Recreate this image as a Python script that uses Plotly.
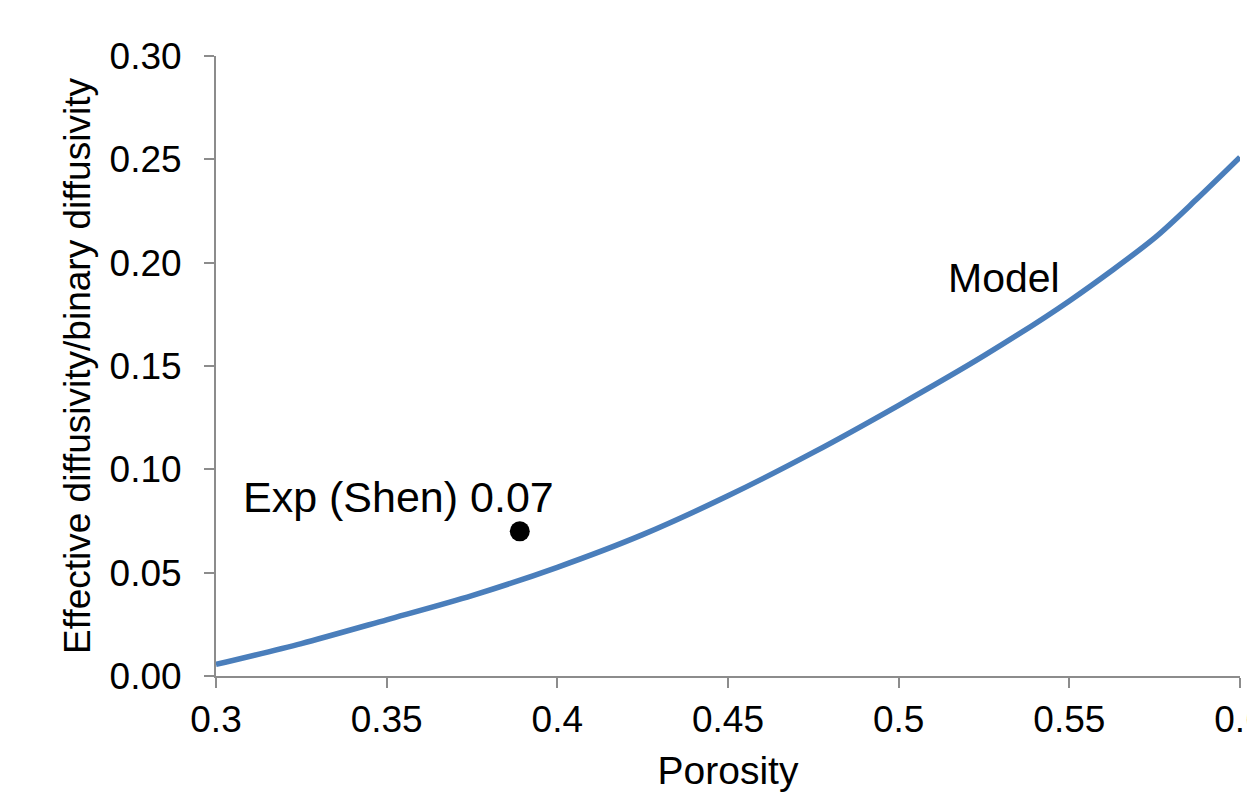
import plotly.graph_objects as go

porosity = [0.30, 0.325, 0.35, 0.375, 0.40, 0.425, 0.45, 0.475, 0.50, 0.525, 0.55, 0.575, 0.5875, 0.60]
model_ratio = [0.0056, 0.0157, 0.0272, 0.0389, 0.0526, 0.0684, 0.0872, 0.1082, 0.131, 0.155, 0.1815, 0.212, 0.231, 0.251]
exp_porosity = [0.389]
exp_ratio = [0.07]
x_ticks = [0.3, 0.35, 0.4, 0.45, 0.5, 0.55, 0.6]
x_ticktext = ["0.3", "0.35", "0.4", "0.45", "0.5", "0.55", "0.6"]
y_ticks = [0.0, 0.05, 0.10, 0.15, 0.20, 0.25, 0.30]
y_ticktext = ["0.00", "0.05", "0.10", "0.15", "0.20", "0.25", "0.30"]

axis_col = "#8c8c8c"
font_fam = "Liberation Sans, Arial, sans-serif"

fig = go.Figure()
fig.add_trace(go.Scatter(x=porosity, y=model_ratio, mode="lines",
                         line=dict(color="#4a7ebb", width=5.5, shape="spline", smoothing=0.8),
                         showlegend=False))
fig.add_trace(go.Scatter(x=exp_porosity, y=exp_ratio, mode="markers",
                         marker=dict(color="black", size=20),
                         showlegend=False))

fig.add_annotation(x=0.3536, y=0.0865, text="Exp (Shen) 0.07", showarrow=False,
                   font=dict(size=43, color="black", family=font_fam))
fig.add_annotation(x=0.5309, y=0.1925, text="Model", showarrow=False,
                   font=dict(size=41, color="black", family=font_fam))

fig.update_layout(
    width=1247, height=784,
    margin=dict(l=208, r=15, t=48, b=116, autoexpand=False),
    paper_bgcolor="white", plot_bgcolor="white",
    font=dict(family=font_fam, color="black", size=37),
)
fig.update_xaxes(range=[0.3, 0.6], tickmode="array", tickvals=x_ticks, ticktext=x_ticktext,
                 automargin=False, ticklabeloverflow="allow",
                 showgrid=False, zeroline=False,
                 showline=True, linecolor=axis_col, linewidth=2,
                 ticks="outside", ticklen=10, tickcolor=axis_col, tickwidth=2,
                 tickfont=dict(size=37), ticklabelstandoff=0,
                 title=dict(text="Porosity", font=dict(size=39), standoff=22))
fig.update_yaxes(range=[0, 0.30], tickmode="array", tickvals=y_ticks, ticktext=y_ticktext,
                 automargin=False,
                 showgrid=False, zeroline=False,
                 showline=True, linecolor=axis_col, linewidth=2,
                 ticks="outside", ticklen=10, tickcolor=axis_col, tickwidth=2,
                 tickfont=dict(size=37), ticklabelstandoff=15,
                 title=dict(text="Effective diffusivity/binary diffusivity", font=dict(size=37), standoff=8))

fig.write_html("out.html")
